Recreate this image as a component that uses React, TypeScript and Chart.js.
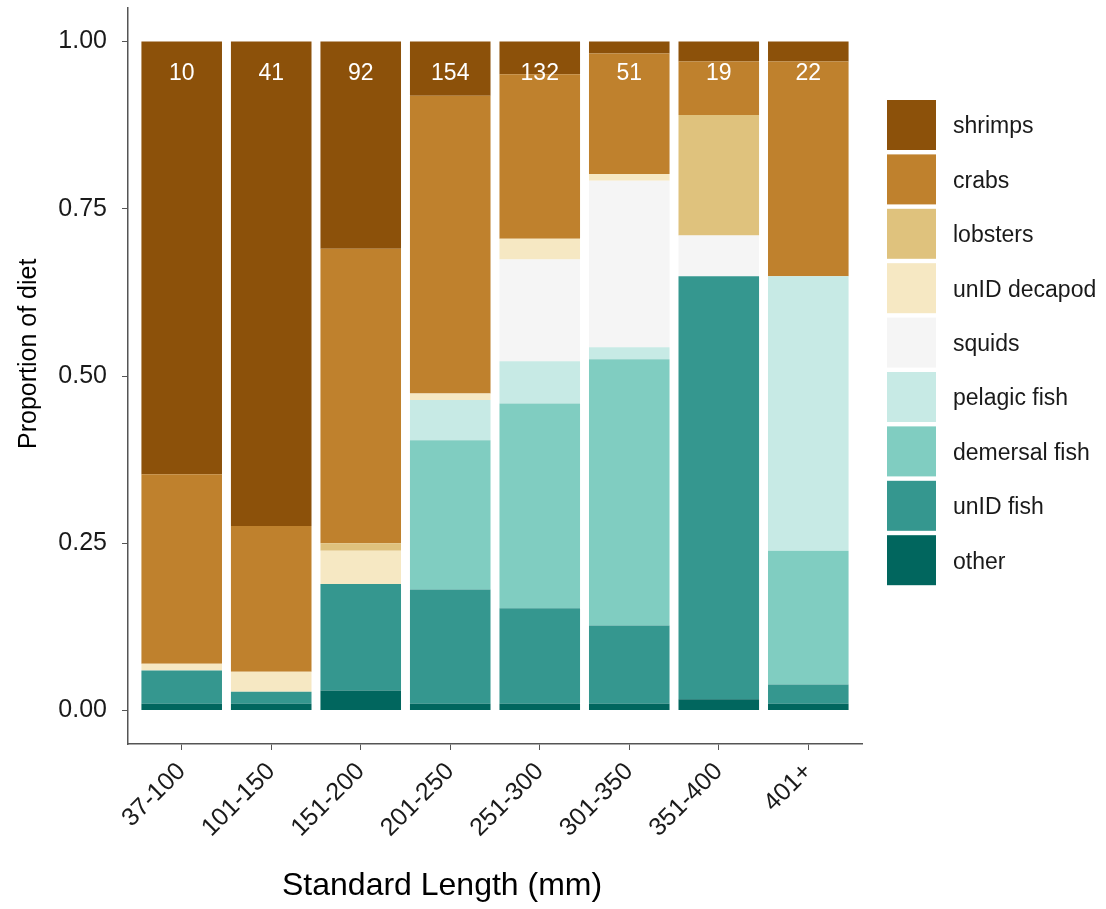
import React, { useEffect, useRef } from "react";
import { Chart, registerables } from "chart.js";

Chart.register(...registerables);

const CATEGORIES = ["37-100", "101-150", "151-200", "201-250", "251-300", "301-350", "351-400", "401+"];
const COUNTS = ["10", "41", "92", "154", "132", "51", "19", "22"];
const Y_TICKS = [0, 0.25, 0.5, 0.75, 1];

// stacking order bottom -> top
const SERIES_NAMES = ["other", "unID fish", "demersal fish", "pelagic fish", "squids", "unID decapod", "lobsters", "crabs", "shrimps"];
const SERIES_COLORS = ["#01665E", "#35978F", "#80CDC1", "#C7EAE5", "#F5F5F5", "#F6E8C3", "#DFC27D", "#BF812D", "#8C510A"];

const OTHER = [0.01, 0.01, 0.03, 0.01, 0.01, 0.01, 0.017, 0.01];
const UNID_FISH = [0.05, 0.018, 0.159, 0.171, 0.143, 0.117, 0.632, 0.029];
const DEMERSAL = [0, 0, 0, 0.223, 0.306, 0.398, 0, 0.2];
const PELAGIC = [0, 0, 0, 0.06, 0.063, 0.018, 0, 0.41];
const SQUIDS = [0, 0, 0, 0, 0.152, 0.249, 0.061, 0];
const UNID_DECAPOD = [0.01, 0.03, 0.05, 0.01, 0.031, 0.01, 0, 0];
const LOBSTERS = [0, 0, 0.011, 0, 0, 0, 0.18, 0];
const CRABS = [0.283, 0.218, 0.44, 0.445, 0.246, 0.18, 0.08, 0.321];
const SHRIMPS = [0.647, 0.724, 0.31, 0.081, 0.049, 0.018, 0.03, 0.03];

const SERIES_VALUES = [OTHER, UNID_FISH, DEMERSAL, PELAGIC, SQUIDS, UNID_DECAPOD, LOBSTERS, CRABS, SHRIMPS];

const FONT = '"Liberation Sans", Arial, Helvetica, sans-serif';

export default function App() {
  const ref = useRef<HTMLCanvasElement | null>(null);

  useEffect(() => {
    document.body.style.margin = "0";
    const canvas = ref.current;
    if (!canvas) return;

    const decorations = {
      id: "decorations",
      afterDatasetsDraw(chart: any) {
        const ctx = chart.ctx;
        const xs = chart.scales.x;
        const ys = chart.scales.y;
        ctx.save();
        ctx.fillStyle = "#FFFFFF";
        ctx.font = `23px ${FONT}`;
        ctx.textAlign = "center";
        ctx.textBaseline = "middle";
        COUNTS.forEach((c, i) => {
          ctx.fillText(c, xs.getPixelForValue(i + 1), ys.getPixelForValue(0.952));
        });
        ctx.restore();
      },
      afterDraw(chart: any) {
        const ctx = chart.ctx;
        ctx.save();
        const n = SERIES_NAMES.length;
        ctx.font = `23px ${FONT}`;
        ctx.textAlign = "left";
        ctx.textBaseline = "middle";
        for (let k = 0; k < n; k++) {
          const idx = n - 1 - k;
          const y0 = 100 + k * 54.4;
          ctx.fillStyle = SERIES_COLORS[idx];
          ctx.fillRect(887, y0, 49, 50);
          ctx.fillStyle = "#1a1a1a";
          ctx.fillText(SERIES_NAMES[idx], 953, y0 + 27);
        }
        ctx.fillStyle = "#000000";
        ctx.font = `32px ${FONT}`;
        ctx.textAlign = "left";
        ctx.textBaseline = "middle";
        ctx.fillText("Standard Length (mm)", 282, 886);
        ctx.save();
        ctx.font = `25px ${FONT}`;
        ctx.translate(29, 449);
        ctx.rotate(-Math.PI / 2);
        ctx.fillText("Proportion of diet", 0, 0);
        ctx.restore();
        ctx.restore();
      },
    };

    const chart = new Chart(canvas, {
      type: "bar",
      data: {
        datasets: SERIES_NAMES.map((name, s) => ({
          label: name,
          data: SERIES_VALUES[s].map((v, i) => ({ x: i + 1, y: v })),
          backgroundColor: SERIES_COLORS[s],
          borderWidth: 0,
          barPercentage: 0.9,
          categoryPercentage: 1.0,
        })),
      },
      options: {
        responsive: false,
        animation: false,
        maintainAspectRatio: false,
        layout: { padding: { left: 0, right: 244, top: 8, bottom: 0 } },
        plugins: { legend: { display: false }, tooltip: { enabled: false } },
        scales: {
          x: {
            type: "linear",
            stacked: true,
            offset: false,
            min: 0.4,
            max: 8.6,
            afterBuildTicks: (axis: any) => {
              axis.ticks = CATEGORIES.map((_, i) => ({ value: i + 1 }));
            },
            afterFit: (axis: any) => {
              axis.height = 165;
              axis.paddingLeft = 0;
              axis.paddingRight = 0;
            },
            ticks: {
              autoSkip: false,
              minRotation: 45,
              maxRotation: 45,
              padding: 7,
              color: "#1a1a1a",
              font: { family: FONT, size: 25 },
              callback: (v: any) => CATEGORIES[Math.round(Number(v)) - 1] ?? "",
            },
            grid: { display: true, offset: false, drawOnChartArea: false, drawTicks: true, tickLength: 6, color: "#555555", tickColor: "#555555" },
            border: { display: true, color: "#555555", width: 1.5 },
          },
          y: {
            type: "linear",
            stacked: true,
            min: -0.05,
            max: 1.05,
            afterBuildTicks: (axis: any) => {
              axis.ticks = Y_TICKS.map((v) => ({ value: v }));
            },
            afterFit: (axis: any) => {
              axis.width = 128;
              axis.paddingTop = 0;
              axis.paddingBottom = 0;
            },
            ticks: {
              padding: 15,
              color: "#1a1a1a",
              font: { family: FONT, size: 25 },
              callback: (v: any) => Number(v).toFixed(2),
            },
            grid: { display: true, drawOnChartArea: false, drawTicks: true, tickLength: 6, color: "#555555", tickColor: "#555555" },
            border: { display: true, color: "#555555", width: 1.5 },
          },
        },
      },
      plugins: [decorations],
    } as any);

    return () => chart.destroy();
  }, []);

  return (
    <div style={{ width: 1106, height: 909, position: "relative" }}>
      <canvas ref={ref} width={1106} height={909} style={{ display: "block", width: 1106, height: 909 }} />
    </div>
  );
}
